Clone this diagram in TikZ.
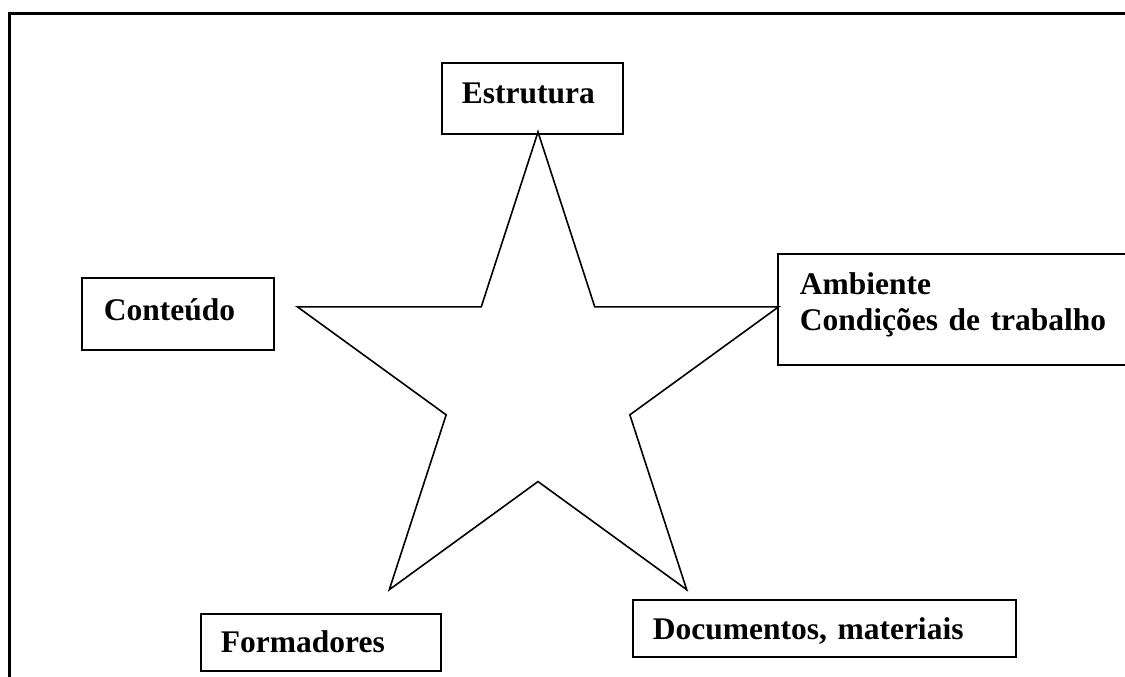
\documentclass[tikz,border=0pt]{standalone}
\usepackage{fontspec}
\setmainfont{Liberation Serif}
\usetikzlibrary{shapes.geometric}

\begin{document}
\begin{tikzpicture}[
			x=1pt, y=-1pt,
			frame/.style={line width=3pt},
			box/.style={draw, line width=1.9pt, anchor=north west, inner ysep=0pt,
					align=left, font=\fontsize{31.5}{36}\selectfont\bfseries},
			starline/.style={draw, line width=1.6pt}
		]
		\useasboundingbox (0,0) rectangle (1125,677);
		% moldura aberta a direita e em baixo
		\draw[frame] (9,690) -- (9,14) -- (1140,14);
		% estrela central
		\node[star, star points=5, star point ratio=2.62, minimum size=506pt,
			inner sep=0pt, starline] (estrela) at (538,385) {};
		% caixas
		\node[box, inner xsep=20pt, text width=141pt, text height=41pt, text depth=30pt]
			(estrutura) at (441,62) {Estrutura};
		\node[box, inner xsep=22pt, text width=148pt, text height=43pt, text depth=29pt]
			(conteudo) at (81,277) {Conteúdo};
		\node[box, inner xsep=22pt, text width=330pt, text height=41pt, text depth=70pt]
			(ambiente) at (777,253) {Ambiente\\Condições de trabalho};
		\node[box, inner xsep=20pt, text width=200pt, text height=39pt, text depth=18pt]
			(formadores) at (200,613) {Formadores};
		\node[box, inner xsep=20pt, text width=343pt, text height=40pt, text depth=17pt]
			(documentos) at (632,599) {Documentos, materiais};
	\end{tikzpicture}
\end{document}
